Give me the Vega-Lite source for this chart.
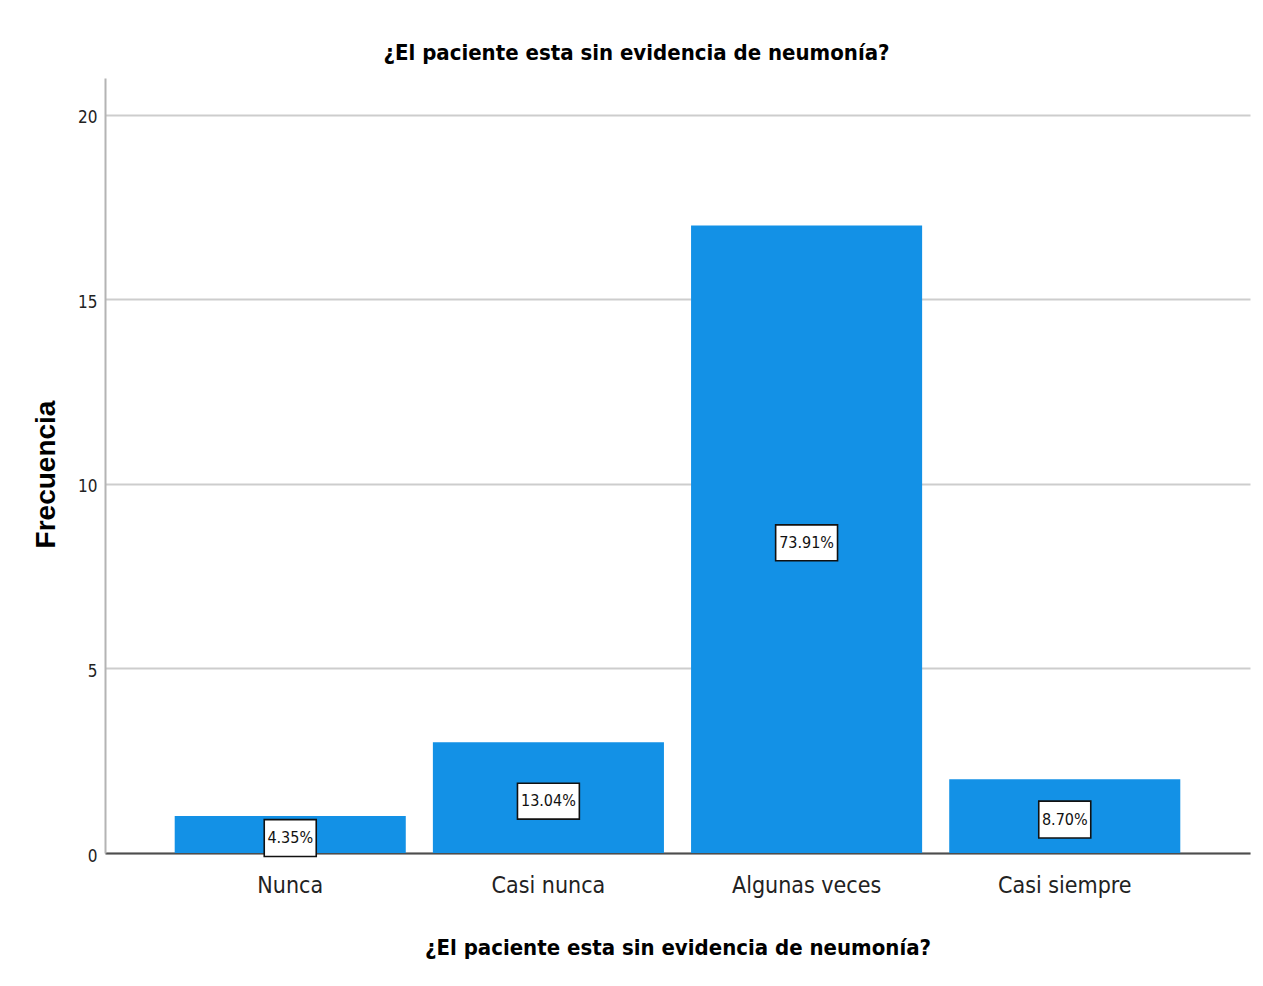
{
  "$schema": "https://vega.github.io/schema/vega-lite/v6.json",
  "autosize": {"type": "none"},
  "width": 1145,
  "height": 775,
  "padding": {"left": 105, "top": 78, "right": 13, "bottom": 133},
  "background": "white",
  "title": {
    "text": "¿El paciente esta sin evidencia de neumonía?",
    "font": "DejaVu Sans Condensed, sans-serif",
    "fontSize": 22,
    "fontWeight": "bold",
    "color": "#000000",
    "anchor": "middle",
    "dx": -41,
    "offset": 13
  },
  "data": {
    "values": [
      {"categoria": "Nunca", "frecuencia": 1, "pct": 0.0435},
      {"categoria": "Casi nunca", "frecuencia": 3, "pct": 0.1304},
      {"categoria": "Algunas veces", "frecuencia": 17, "pct": 0.7391},
      {"categoria": "Casi siempre", "frecuencia": 2, "pct": 0.087}
    ]
  },
  "encoding": {
    "x": {
      "field": "categoria",
      "type": "nominal",
      "sort": ["Nunca", "Casi nunca", "Algunas veces", "Casi siempre"],
      "scale": {"paddingInner": 0.105, "paddingOuter": 0.27},
      "axis": {
        "title": "¿El paciente esta sin evidencia de neumonía?",
        "titleFont": "DejaVu Sans Condensed, sans-serif",
        "titleFontSize": 22,
        "titleFontWeight": "bold",
        "titleColor": "#000000",
        "titlePadding": 40,
        "labelAngle": 0,
        "labelFont": "DejaVu Sans Condensed, sans-serif",
        "labelFontSize": 23,
        "labelColor": "#222222",
        "labelPadding": 21,
        "ticks": false,
        "domainColor": "#4d4d4d",
        "domainWidth": 2,
        "grid": false
      }
    }
  },
  "layer": [
    {
      "mark": {"type": "bar", "color": "#1391e6"},
      "encoding": {
        "y": {
          "field": "frecuencia",
          "type": "quantitative",
          "scale": {"domain": [0, 21], "nice": false},
          "axis": {
            "title": "Frecuencia",
            "titleFont": "Liberation Sans, Arial, sans-serif",
            "titleFontSize": 28,
            "titleFontWeight": "bold",
            "titleColor": "#000000",
            "titlePadding": 17,
            "titleY": 396,
            "values": [0, 5, 10, 15, 20],
            "labelFont": "DejaVu Sans Condensed, sans-serif",
            "labelFontSize": 17,
            "labelColor": "#222222",
            "labelPadding": 8,
            "labelOffset": 3,
            "ticks": false,
            "domainColor": "#b4b4b4",
            "domainWidth": 2,
            "grid": true,
            "gridColor": "#cdcdcd",
            "gridWidth": 2
          }
        }
      }
    },
    {
      "transform": [{"filter": "datum.pct < 0.1"}],
      "mark": {
        "type": "point",
        "shape": "M-2,-1.42H2V1.42H-2Z",
        "size": 676,
        "filled": true,
        "fill": "white",
        "fillOpacity": 1,
        "stroke": "#111111",
        "strokeWidth": 1.6,
        "opacity": 1,
        "yOffset": 3.5
      },
      "encoding": {
        "y": {"field": "frecuencia", "type": "quantitative", "scale": {"domain": [0, 42], "nice": false}, "axis": null}
      }
    },
    {
      "transform": [{"filter": "datum.pct >= 0.1"}],
      "mark": {
        "type": "point",
        "shape": "M-2.38,-1.38H2.38V1.38H-2.38Z",
        "size": 676,
        "filled": true,
        "fill": "white",
        "fillOpacity": 1,
        "stroke": "#111111",
        "strokeWidth": 1.6,
        "opacity": 1,
        "yOffset": 3.5
      },
      "encoding": {
        "y": {"field": "frecuencia", "type": "quantitative", "scale": {"domain": [0, 42], "nice": false}, "axis": null}
      }
    },
    {
      "mark": {
        "type": "text",
        "font": "DejaVu Sans Condensed, sans-serif",
        "fontSize": 16,
        "color": "#111111",
        "align": "center",
        "baseline": "middle",
        "yOffset": 3.5
      },
      "encoding": {
        "y": {"field": "frecuencia", "type": "quantitative", "scale": {"domain": [0, 42], "nice": false}, "axis": null},
        "text": {"field": "pct", "type": "quantitative", "format": ".2%"}
      }
    }
  ],
  "resolve": {"scale": {"y": "independent"}},
  "config": {
    "view": {"stroke": null}
  }
}
